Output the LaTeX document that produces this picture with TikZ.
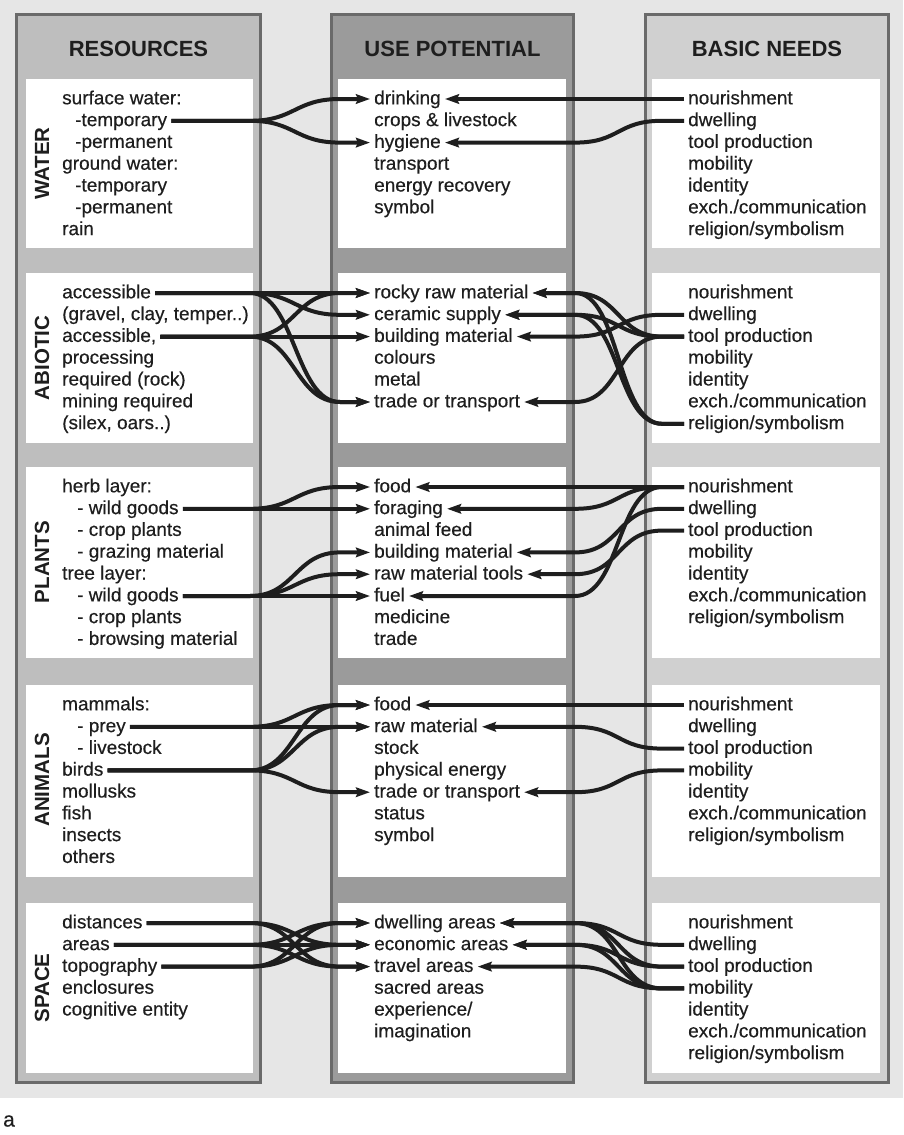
\documentclass[tikz,border=0pt]{standalone}
\usepackage{fontspec}
\setmainfont{Liberation Sans}
\newfontfamily\bodyfont{Liberation Sans}[FakeBold=0.4]
\usetikzlibrary{arrows.meta}
\definecolor{bg}{HTML}{E6E6E6}
\definecolor{colL}{HTML}{BEBEBE}
\definecolor{colM}{HTML}{9B9B9B}
\definecolor{colR}{HTML}{D0D0D0}
\definecolor{bord}{HTML}{6A6A6A}
\definecolor{ink}{HTML}{1E1E1E}
\newcommand\lcon[2]{\draw[con] (#1.east) -- (#1.east -| La) .. controls +(45,0) and +(-45,0) .. (#2.west -| Lb) -- (#2.west);}
\newcommand\rcon[2]{\draw[con] (#1.west) -- (#1.west -| Rb) .. controls +(-45,0) and +(45,0) .. (#2.east -| Ra) -- (#2.east);}
\begin{document}
\begin{tikzpicture}[x=1pt,y=-1pt,
  lt/.style={anchor=west, inner xsep=4pt, inner ysep=0pt, font=\bodyfont\fontsize{19}{21}\selectfont, text=ink, text height=14.6pt, text depth=4pt},
  hd/.style={font=\bfseries\fontsize{22}{24}\selectfont, text=ink, inner sep=0pt},
  rot/.style={font=\bfseries\fontsize{20.5}{22}\selectfont, text=ink, rotate=90, inner sep=0pt},
  colbox/.style={line width=3pt, draw=bord},
  con/.style={draw=ink, line width=4pt, -{Stealth[length=14pt,width=9.5pt,inset=2pt]}}
]
\useasboundingbox (0,0) rectangle (903,1135);
\fill[bg] (0,0) rectangle (903,1098);
\draw[colbox, fill=colL] (16.5,14.5) rectangle (260.5,1082.5);
\draw[colbox, fill=colM] (331.5,14.5) rectangle (573.5,1082.5);
\draw[colbox, fill=colR] (645.5,14.5) rectangle (888.5,1082.5);
\foreach \t/\b in {79/248, 273/443, 467/658, 685/877, 903/1073} {
  \fill[white] (26,\t) rectangle (253,\b);
  \fill[white] (338,\t) rectangle (566,\b);
  \fill[white] (652,\t) rectangle (880,\b);
}
\coordinate (La) at (250,0);
\coordinate (Lb) at (340,0);
\coordinate (Ra) at (575,0);
\coordinate (Rb) at (662,0);

\node[hd] (h1) at (138.5,49) {RESOURCES};
\node[hd] (h2) at (452.5,49) {USE POTENTIAL};
\node[hd] (h3) at (767,49) {BASIC NEEDS};

\node[rot] (lw) at (42,163.5) {WATER};
\node[rot] (la) at (42,358) {ABIOTIC};
\node[rot] (lp) at (42,562) {PLANTS};
\node[rot] (ln) at (42,780) {ANIMALS};
\node[rot] (ls) at (42,988) {SPACE};

% right column (basic needs)
\foreach \s/\y in {w/99, a/293, p/487, n/705, s/923} {
  \foreach \t [count=\i] in {nourishment, dwelling, tool production, mobility, identity, exch./communication, religion/symbolism}
    \node[lt] (\s r\i) at (684,{\y+21.8*(\i-1)}) {\t};
}

% WATER
\node[lt] (w1) at (58,99) {surface water:};
\node[lt] (w2) at (71,120.8) {-temporary};
\node[lt] (w3) at (71,142.6) {-permanent};
\node[lt] (w4) at (58,164.4) {ground water:};
\node[lt] (w5) at (71,186.2) {-temporary};
\node[lt] (w6) at (71,208) {-permanent};
\node[lt] (w7) at (58,229.8) {rain};
\foreach \t [count=\i] in {drinking, crops \& livestock, hygiene, transport, energy recovery, symbol}
  \node[lt] (wm\i) at (370,{99+21.8*(\i-1)}) {\t};

% ABIOTIC
\foreach \t [count=\i] in {accessible, {(gravel, clay, temper..)}, {accessible,}, processing, required (rock), mining required, {(silex, oars..)}}
  \node[lt] (a\i) at (58,{293+21.8*(\i-1)}) {\t};
\foreach \t [count=\i] in {rocky raw material, ceramic supply, building material, colours, metal, trade or transport}
  \node[lt] (am\i) at (370,{293+21.8*(\i-1)}) {\t};

% PLANTS
\node[lt] (p1) at (58,487) {herb layer:};
\node[lt] (p2) at (73,508.8) {- wild goods};
\node[lt] (p3) at (73,530.6) {- crop plants};
\node[lt] (p4) at (73,552.4) {- grazing material};
\node[lt] (p5) at (58,574.2) {tree layer:};
\node[lt] (p6) at (73,596) {- wild goods};
\node[lt] (p7) at (73,617.8) {- crop plants};
\node[lt] (p8) at (73,639.6) {- browsing material};
\foreach \t [count=\i] in {food, foraging, animal feed, building material, raw material tools, fuel, medicine, trade}
  \node[lt] (pm\i) at (370,{487+21.8*(\i-1)}) {\t};

% ANIMALS
\node[lt] (n1) at (58,705) {mammals:};
\node[lt] (n2) at (73,726.8) {- prey};
\node[lt] (n3) at (73,748.6) {- livestock};
\node[lt] (n4) at (58,770.4) {birds};
\node[lt] (n5) at (58,792.2) {mollusks};
\node[lt] (n6) at (58,814) {fish};
\node[lt] (n7) at (58,835.8) {insects};
\node[lt] (n8) at (58,857.6) {others};
\foreach \t [count=\i] in {food, raw material, stock, physical energy, trade or transport, status, symbol}
  \node[lt] (nm\i) at (370,{705+21.8*(\i-1)}) {\t};

% SPACE
\foreach \t [count=\i] in {distances, areas, topography, enclosures, cognitive entity}
  \node[lt] (s\i) at (58,{923+21.8*(\i-1)}) {\t};
\foreach \t [count=\i] in {dwelling areas, economic areas, travel areas, sacred areas, experience/, imagination}
  \node[lt] (sm\i) at (370,{923+21.8*(\i-1)}) {\t};

\node[font=\bodyfont\fontsize{21}{23}\selectfont, text=ink, inner sep=0pt] (lab) at (9,1121) {a};

% connectors WATER
\lcon{w2}{wm1}
\lcon{w2}{wm3}
\rcon{wr1}{wm1}
\rcon{wr2}{wm3}
% ABIOTIC
\lcon{a1}{am1}
\lcon{a1}{am2}
\lcon{a1}{am6}
\lcon{a3}{am1}
\lcon{a3}{am3}
\lcon{a3}{am6}
\rcon{ar3}{am1}
\rcon{ar7}{am1}
\rcon{ar3}{am2}
\rcon{ar7}{am2}
\rcon{ar2}{am3}
\rcon{ar3}{am6}
% PLANTS
\lcon{p2}{pm1}
\lcon{p2}{pm2}
\lcon{p6}{pm4}
\lcon{p6}{pm5}
\lcon{p6}{pm6}
\rcon{pr1}{pm1}
\rcon{pr1}{pm2}
\rcon{pr1}{pm6}
\rcon{pr2}{pm4}
\rcon{pr3}{pm5}
% ANIMALS
\lcon{n2}{nm1}
\lcon{n2}{nm2}
\lcon{n4}{nm1}
\lcon{n4}{nm2}
\lcon{n4}{nm5}
\rcon{nr1}{nm1}
\rcon{nr3}{nm2}
\rcon{nr4}{nm5}
% SPACE
\lcon{s1}{sm2}
\lcon{s1}{sm3}
\lcon{s2}{sm1}
\lcon{s2}{sm2}
\lcon{s2}{sm3}
\lcon{s3}{sm1}
\lcon{s3}{sm2}
\rcon{sr2}{sm1}
\rcon{sr3}{sm1}
\rcon{sr4}{sm1}
\rcon{sr3}{sm2}
\rcon{sr4}{sm2}
\rcon{sr4}{sm3}
\end{tikzpicture}
\end{document}
